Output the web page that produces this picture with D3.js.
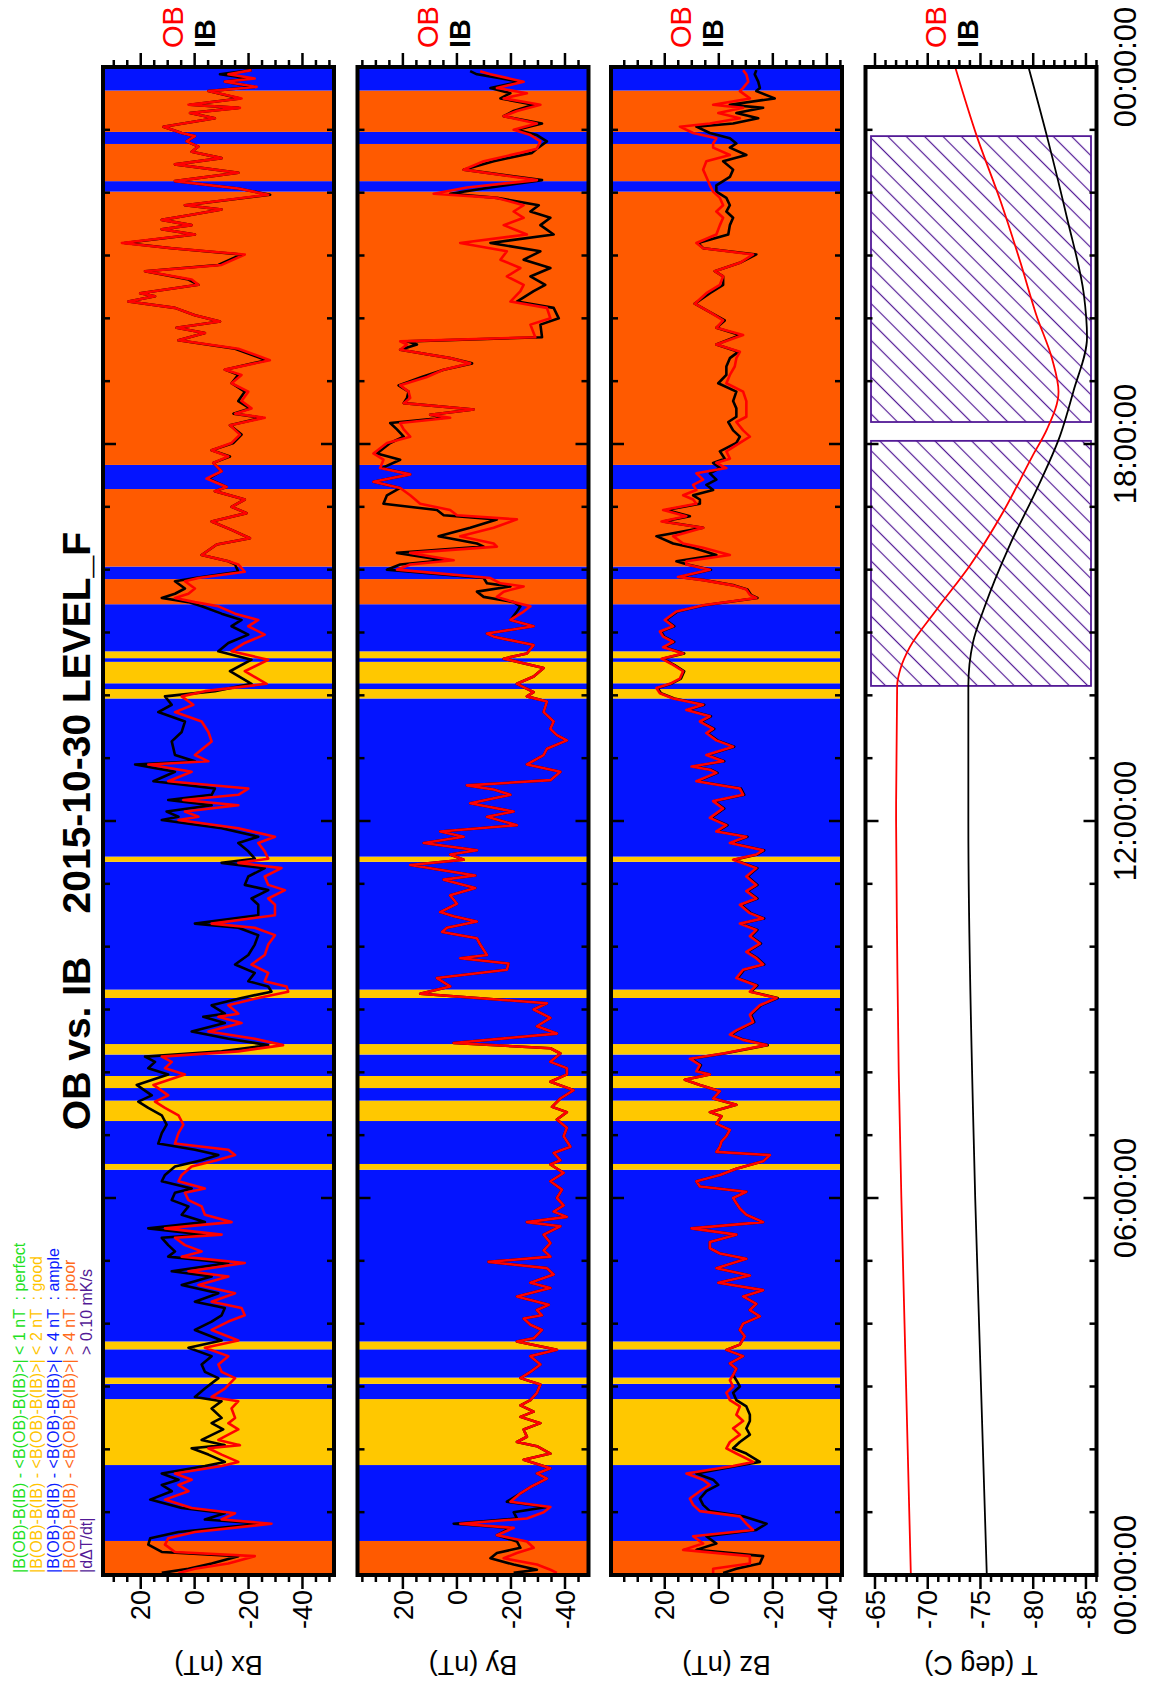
<!DOCTYPE html>
<html><head><meta charset="utf-8">
<script src="https://cdn.jsdelivr.net/npm/d3@7/dist/d3.min.js"></script>
<style>
html,body{margin:0;padding:0;background:#fff;}
svg{display:block;font-family:"Liberation Sans",Arial,Helvetica,sans-serif;}
</style></head><body>
<svg id="chart" width="1149" height="1703"></svg>
<script>
// ---------------- DATA ----------------
// time in minutes since 2015-10-30 00:00:00
const timeTickMinutes = [0, 360, 720, 1080, 1440];
const timeTickLabels = ["00:00:00", "06:00:00", "12:00:00", "18:00:00", "00:00:00"];

// quality bands (start minute, quality)
const bandStart = [0, 32.5, 105, 168, 182.5, 188.5, 215.5, 223, 387, 392.5, 433.5, 453, 465, 476.5, 497, 507, 551, 559, 681, 686, 837, 846, 851.5, 872, 875.5, 882, 927, 951, 963, 1037, 1060, 1321, 1331, 1366.5, 1378, 1417.5];
const bandQuality = ["poor","ample","good","ample","good","ample","good","ample","good","ample","good","ample","good","ample","good","ample","good","ample","good","ample","good","ample","good","ample","good","ample","poor","ample","poor","ample","poor","ample","poor","ample","poor","ample"];

// Bx (nT)
const bxTime = [1437,1433,1429,1426,1421,1417,1410,1404,1401,1396,1391,1383,1377,1374,1369,1364,1359,1353,1347,1339,1331,1324,1318,1308,1304,1299,1294,1289,1285,1280,1272,1267,1261,1251,1245,1237,1232,1224,1221,1216,1210,1203,1197,1191,1186,1179,1171,1160,1151,1146,1138,1130,1121,1114,1109,1105,1098,1089,1081,1074,1068,1062,1054,1047,1039,1035,1027,1020,1014,1006,998,990,984,974,968,
965,958,952,949,942,937,933,929,925,918,912,906,898,890,882,874,863,851,844,839,831,824,815,805,796,783,777,774,767,758,751,745,740,735,729,724,721,713,705,699,691,684,680,675,667,659,654,646,640,630,622,618,611,602,592,583,575,567,562,557,551,544,536,533,527,519,512,506,500,495,490,484,
478,468,458,452,446,439,430,422,412,406,401,396,390,382,376,369,365,358,352,344,337,331,325,322,315,309,304,298,290,285,277,269,261,255,248,242,234,224,217,209,201,194,188,178,170,166,159,150,145,139,129,124,121,115,108,104,97,91,86,80,72,64,59,53,49,41,35,29,22,18,11,6,2];
const bxOB = [-21.1,-12.5,-22.3,-11.2,-23.0,-5.1,-17.4,2.3,-16.8,1.7,-7.5,11.6,4.8,-0.1,3.0,-1.4,1.1,-10.0,7.3,-16.2,7.3,-16.2,-27.3,3.6,-10.0,1.1,12.2,1.1,12.2,-0.1,27.0,8.5,-18.6,-10.0,18.4,1.1,-1.4,20.2,14.7,24.6,7.3,-0.1,-9.4,6.7,-3.8,6.0,-16.2,-27.9,-11.2,-17.4,-13.7,-19.9,-17.4,-21.1,-15.0,-26.0,-13.1,-16.8,-13.7,-6.3,-12.5,-6.9,-10.0,-4.4,-11.9,-7.5,-18.6,-13.7,-19.3,-6.3,-13.7,-20.5,-8.2,-2.6,-12.5,
-16.2,-18.6,-1.4,3.6,-0.1,2.3,7.3,-0.1,-8.8,-15.0,-23.6,-19.9,-26.0,-18.6,-13.7,-27.3,-18.6,-26.7,-3.8,4.8,0.5,7.3,-2.6,-5.1,-6.3,-0.1,-5.1,17.2,1.1,9.8,-19.9,-16.2,4.2,-16.2,3.6,-1.4,6.0,-16.2,-29.8,-23.6,-26.0,-27.3,-16.2,-32.2,-26.0,-27.3,-33.5,-27.3,-29.8,-29.8,-6.3,-22.3,-29.8,-27.3,-26.0,-21.1,-27.3,-26.0,-34.1,-34.7,-23.6,-12.5,-16.2,-8.8,-17.4,-5.1,-22.3,-32.8,-16.2,12.2,8.5,11.0,
3.6,15.3,9.8,14.7,11.0,6.0,4.2,6.0,7.3,-12.5,-15.0,-8.2,1.1,4.8,6.0,-3.8,3.6,2.3,-2.6,-3.8,-13.7,11.0,-10.0,7.3,3.6,-2.6,4.8,-18.6,2.3,-12.5,-1.4,-15.0,-6.3,-17.4,-18.6,-12.5,-6.3,-16.2,-3.8,-12.5,-8.8,-10.0,-15.0,-11.2,-6.3,-16.2,-13.7,-15.0,-12.5,-16.2,-8.8,-16.8,-5.1,-10.0,-16.2,-10.0,7.3,1.1,6.0,2.3,11.0,1.1,-15.0,-10.0,-28.5,-0.1,9.8,11.0,7.3,-22.3,-12.5,-0.1,6.0];
const bxIB = [-21.1,-9.4,-20.5,-11.2,-22.3,-5.1,-16.8,1.7,-16.2,1.7,-7.5,11.6,4.8,-0.1,3.0,-1.4,1.1,-10.0,7.3,-16.2,7.3,-16.2,-28.0,3.6,-10.0,1.1,12.2,1.1,12.2,-0.1,26.0,8.5,-17.4,-8.8,18.4,2.3,-1.4,20.2,14.7,24.6,7.3,-0.1,-9.4,6.7,-3.8,6.0,-15.0,-26.7,-11.2,-16.2,-13.7,-18.6,-16.2,-20.5,-14.4,-25.0,-13.1,-17.4,-14.4,-6.3,-13.1,-6.9,-10.0,-5.1,-11.9,-7.5,-18.6,-13.7,-19.3,-6.3,-13.7,-20.5,-8.2,-2.6,-12.5,
-15.0,-16.2,-0.1,7.3,3.6,7.3,12.2,2.3,-2.6,-10.0,-17.4,-13.7,-19.9,-12.5,-8.8,-21.1,-13.1,-21.1,-7.5,11.0,8.5,13.5,3.6,4.8,8.5,7.3,-0.1,22.1,7.3,15.3,-7.5,-6.3,9.8,-6.3,10.4,6.0,12.2,-10.0,-23.6,-16.2,-19.9,-22.3,-10.0,-26.0,-19.9,-18.6,-27.3,-21.1,-23.6,-23.6,-0.1,-16.2,-23.6,-22.3,-19.9,-15.0,-22.3,-19.9,-27.3,-28.5,-17.4,-6.3,-11.2,-3.2,-11.2,1.1,-12.5,-27.3,-10.0,18.4,14.7,17.2,
9.8,21.5,15.9,20.9,17.2,12.2,10.4,12.2,13.5,-0.1,-8.8,-2.6,7.3,11.0,12.2,1.1,7.3,8.5,2.3,4.8,-3.8,17.2,-3.8,12.2,9.8,7.3,9.8,-12.5,8.5,-6.3,4.8,-8.8,-0.1,-11.2,-10.0,-6.3,-0.1,-10.0,2.3,-6.3,-2.6,-3.8,-8.8,-3.8,-0.1,-10.0,-6.3,-10.0,-6.3,-10.6,-2.6,-11.2,1.1,-5.1,-11.2,-3.8,12.2,6.0,12.2,8.5,16.5,4.8,-11.2,-3.8,-24.8,6.0,16.5,17.2,12.2,-16.2,-6.3,2.3,12.2];

// By (nT)
const byTime = [1436,1433,1426,1420,1415,1410,1404,1398,1393,1386,1380,1375,1369,1362,1358,1350,1342,1332,1325,1319,1315,1308,1302,1296,1289,1280,1272,1264,1256,1248,1240,1232,1226,1216,1210,1200,1194,1182,1178,1175,1170,1162,1157,1151,1144,1136,1130,1124,1119,1113,1108,1105,1100,1094,1087,1081,1071,1065,1057,1051,1044,1038,1031,1023,1017,1012,1008,1000,992,985,982,976,969,
965,960,952,947,944,939,934,929,925,920,912,906,899,896,888,880,875,866,858,851,843,839,834,824,815,808,802,797,789,783,774,767,759,754,750,745,737,729,724,716,710,705,699,692,688,683,678,668,664,656,649,641,633,629,624,618,614,608,602,592,589,584,578,570,562,555,551,546,540,532,524,517,508,503,498,490,484,
478,471,463,455,447,442,435,427,419,409,403,396,392,384,376,368,360,353,347,342,337,333,325,317,310,304,299,293,287,279,274,266,258,253,248,245,239,234,226,223,215,209,201,194,188,182,174,167,162,156,151,145,139,132,127,123,116,110,102,97,92,84,78,70,65,60,54,49,45,38,32,26,21,16,10,5,2];
const byOB = [-8.6,-12.4,-24.7,-14.8,-25.9,-17.3,-30.9,-22.2,-17.3,-29.6,-21.0,-27.2,-30.9,-29.6,-23.5,-9.9,-2.5,-29.6,-3.7,8.6,-14.8,-24.7,-21.0,-24.7,-17.3,-25.9,-1.2,-18.5,-16.1,-23.5,-18.5,-24.7,-23.5,-19.8,-33.3,-34.6,-27.2,-29.0,21.0,18.5,21.0,2.5,-4.9,4.9,11.1,21.0,17.9,17.3,19.7,-6.2,9.9,2.5,21.0,19.7,17.3,25.9,30.9,27.2,28.4,17.3,30.9,21.0,17.3,13.6,2.5,0.0,-22.2,-13.6,-1.2,-13.6,-14.8,17.3,1.2,
17.3,22.2,-12.4,-16.1,-24.7,-17.3,-14.8,-21.0,-27.2,-24.7,-19.8,-28.4,-11.1,-13.6,-28.4,-25.9,-17.3,-32.1,-28.4,-22.2,-28.4,-25.9,-33.3,-32.1,-35.8,-34.6,-37.0,-40.7,-33.3,-32.1,-25.9,-38.3,-34.6,-3.7,-13.6,-19.8,-4.9,-21.0,-11.1,-22.2,6.2,-2.5,12.3,-7.4,2.5,-2.5,17.3,-6.8,4.9,-6.8,2.5,0.0,6.2,1.2,-7.4,3.7,5.5,-7.4,-8.6,-11.1,-1.2,-19.1,-18.5,7.4,2.5,13.6,-7.4,-33.3,-28.4,-34.6,-29.6,-37.0,1.2,-34.6,-38.3,-34.6,-40.7,
-40.7,-34.6,-43.2,-38.3,-35.2,-40.7,-37.0,-40.7,-39.5,-42.0,-35.8,-38.3,-34.6,-39.5,-34.6,-38.9,-37.0,-39.5,-35.8,-40.7,-25.9,-38.3,-32.1,-34.6,-32.1,-34.6,-11.7,-33.3,-35.8,-27.2,-34.6,-22.2,-34.0,-29.6,-31.5,-24.7,-27.2,-31.5,-28.4,-22.2,-37.0,-27.2,-30.9,-27.2,-23.5,-30.9,-29.6,-27.2,-23.5,-28.4,-23.5,-30.9,-24.7,-25.9,-22.2,-29.6,-34.6,-24.7,-34.6,-29.6,-33.3,-27.2,-23.5,-19.8,-34.6,-32.1,-25.9,-1.2,-21.0,-14.8,-25.9,-28.4,-22.2,-17.3,-29.6,-34.6,-37.0];
const byIB = [-4.9,-7.4,-23.5,-12.4,-19.8,-16.1,-28.4,-21.0,-17.3,-31.5,-22.2,-29.6,-33.3,-29.6,-27.8,-13.6,-2.5,-31.5,-12.4,2.5,-14.8,-30.3,-27.2,-34.6,-30.9,-35.8,-12.4,-30.9,-24.7,-34.6,-27.2,-32.7,-28.4,-22.2,-35.8,-37.7,-30.9,-31.5,18.5,14.8,21.0,2.5,-5.6,4.9,13.0,21.6,17.9,18.5,19.7,-6.2,9.9,4.9,24.7,22.2,19.7,24.7,29.6,21.0,27.8,17.3,30.9,21.0,25.9,27.2,7.4,4.9,-14.8,-4.9,6.8,-7.4,-9.9,22.2,4.9,
21.0,25.9,-9.9,-11.1,-19.8,-7.4,-9.9,-21.0,-23.5,-22.2,-19.8,-28.4,-11.1,-13.6,-28.4,-25.9,-17.3,-32.1,-28.4,-22.2,-28.4,-25.9,-33.3,-32.1,-35.8,-34.6,-37.0,-40.7,-33.3,-32.1,-25.9,-38.3,-34.6,-3.7,-13.6,-19.8,-4.9,-21.0,-11.1,-22.2,6.2,-2.5,12.3,-7.4,2.5,-2.5,17.3,-6.8,4.9,-6.8,2.5,0.0,6.2,1.2,-7.4,3.7,5.5,-7.4,-8.6,-11.1,-1.2,-19.1,-18.5,7.4,2.5,13.6,-7.4,-33.3,-28.4,-34.6,-29.6,-37.0,1.2,-34.6,-38.3,-34.6,-40.7,
-40.7,-34.6,-43.2,-38.3,-35.2,-40.7,-37.0,-40.7,-39.5,-42.0,-35.8,-38.3,-34.6,-39.5,-34.6,-38.9,-37.0,-39.5,-35.8,-40.7,-25.9,-38.3,-32.1,-34.6,-32.1,-34.6,-11.7,-33.3,-35.8,-27.2,-34.6,-22.2,-34.0,-29.6,-31.5,-24.7,-27.2,-31.5,-28.4,-22.2,-37.0,-27.2,-30.9,-27.2,-23.5,-30.9,-29.6,-27.2,-23.5,-28.4,-23.5,-30.9,-24.7,-25.9,-22.2,-29.6,-34.6,-24.7,-34.6,-29.6,-33.3,-27.2,-23.5,-18.5,-33.3,-21.0,-22.2,1.2,-19.8,-14.8,-22.2,-23.5,-14.8,-12.4,-21.0,-29.6,-21.0];

// Bz (nT)
const bzTime = [1437,1433,1426,1420,1417,1410,1404,1401,1396,1391,1386,1383,1377,1372,1367,1363,1356,1350,1342,1335,1327,1321,1315,1308,1302,1296,1289,1280,1272,1267,1261,1253,1245,1240,1232,1224,1214,1206,1198,1191,1184,1175,1168,1162,1154,1146,1138,1130,1121,1114,1106,1101,1093,1087,1081,1073,1066,1062,1057,1052,1046,1041,1036,1031,1027,1023,1017,1011,1006,1000,992,985,981,974,968,
965,960,953,950,945,941,936,933,926,920,912,906,901,896,891,886,880,875,869,863,856,851,847,842,837,831,826,820,815,808,804,797,791,783,777,772,769,766,758,751,745,739,732,723,716,710,705,699,692,688,683,675,667,659,653,646,640,632,627,622,616,610,603,595,589,583,578,570,563,557,551,544,535,528,520,516,511,506,498,493,487,481,
478,473,468,462,455,449,442,438,431,425,419,414,409,404,401,395,388,382,376,371,366,360,355,350,344,337,331,325,318,312,307,302,293,286,279,272,266,259,253,247,240,234,228,220,215,209,202,197,191,186,180,174,167,161,153,147,140,134,127,121,116,108,104,97,91,86,80,73,67,61,56,49,43,37,30,24,18,11,6,2];
const bzOB = [-9.0,-10.2,-10.9,-9.0,-7.8,-11.5,2.1,-9.0,0.2,-7.8,3.3,14.4,9.5,0.9,2.1,2.1,-4.1,4.6,5.8,4.6,3.3,2.1,-0.4,-1.6,0.9,-1.6,-0.4,0.9,8.3,5.8,-12.7,-7.8,1.5,-1.6,-0.4,4.6,8.9,3.3,-1.6,0.9,-9.0,0.9,-7.8,-6.5,-5.9,-4.1,-2.8,-9.0,-10.2,-10.2,-10.2,-6.5,-9.0,-11.5,-7.8,-2.8,-4.1,0.9,-2.8,8.3,5.8,9.5,8.3,13.2,9.5,8.3,20.6,12.0,21.2,5.8,16.9,13.2,5.8,-4.1,12.0,
12.0,3.3,15.1,5.8,-5.3,-10.2,-11.5,-13.9,5.8,15.7,20.0,16.9,21.8,20.6,16.9,20.6,13.2,21.2,16.9,13.2,14.4,18.1,23.1,21.8,16.9,5.8,12.0,3.3,7.0,2.1,4.6,0.9,-5.3,4.6,-1.6,10.1,3.3,0.9,8.3,-7.8,-9.0,2.1,-1.6,3.3,-2.8,0.9,-10.2,-4.1,-16.4,-13.9,-5.3,-13.9,-10.2,-13.9,-10.2,-13.9,-7.8,-11.5,-16.4,-7.8,-13.9,-11.5,-15.2,-10.2,-13.9,-16.4,-9.0,-6.5,-13.9,-11.5,-21.4,-15.2,-11.5,-12.7,-6.5,-4.1,-9.0,-17.7,-1.6,10.7,7.0,8.3,
3.3,12.6,7.0,-0.4,2.1,-6.5,3.3,-1.0,0.9,-4.1,-2.8,-1.0,-0.4,0.9,-18.9,-16.4,-6.5,-0.4,8.3,7.0,-10.2,-5.3,-6.5,-7.8,-10.2,-16.4,10.1,-6.5,3.3,3.3,-0.4,-10.2,0.9,-11.5,0.2,-16.4,-9.0,-13.9,-11.5,-15.2,-9.0,-7.8,-9.6,-7.8,-2.8,-9.0,-4.1,-6.5,-5.3,-4.1,-5.3,-2.8,-4.1,-7.8,-6.5,-9.0,-5.3,-7.8,-4.1,-2.8,-6.5,-12.7,-5.3,12.0,5.8,3.3,7.0,10.7,9.5,7.0,-7.8,-10.2,-12.7,9.5,5.8,13.2,-11.5,-11.5,2.1,2.1];
const bzIB = [-13.9,-13.3,-14.6,-15.2,-13.9,-20.7,-4.1,-16.4,-6.5,-14.6,-5.3,8.3,3.3,-4.1,-6.5,-4.1,-10.2,-1.6,-5.3,-4.1,0.9,0.9,-2.8,-4.1,-2.8,-5.3,-4.1,-3.5,7.7,5.8,-13.9,-7.8,1.5,-1.6,-1.6,3.3,8.9,3.3,-2.2,0.9,-7.8,0.9,-7.2,-4.1,-2.8,-2.8,0.2,-6.5,-5.3,-6.5,-6.5,-3.5,-5.3,-7.8,-6.5,-0.4,-2.2,2.1,-0.4,3.3,0.9,4.6,2.1,9.5,7.0,7.0,19.4,10.7,20.6,5.8,23.1,16.9,9.5,0.9,15.7,
11.6,2.9,14.7,5.4,-5.7,-10.6,-11.9,-14.3,5.4,15.3,19.6,16.5,21.4,20.2,16.5,20.2,12.8,20.8,16.5,12.8,14.0,17.7,22.7,21.4,16.5,5.4,11.6,2.9,6.6,1.7,4.2,0.5,-5.7,4.2,-2.0,9.7,2.9,0.5,7.9,-8.2,-9.4,1.7,-2.0,2.9,-3.2,0.5,-10.6,-4.5,-16.8,-14.3,-5.7,-14.3,-10.6,-14.3,-10.6,-14.3,-8.2,-11.9,-16.8,-8.2,-14.3,-11.9,-15.6,-10.6,-14.3,-16.8,-9.4,-6.9,-14.3,-11.9,-21.8,-15.6,-11.9,-13.1,-6.9,-4.5,-9.4,-18.1,-2.0,10.3,6.6,7.9,
3.3,12.6,7.0,-0.4,2.1,-6.5,3.3,-1.0,0.9,-4.1,-2.8,-1.0,-0.4,0.9,-18.9,-16.4,-6.5,-0.4,8.3,7.0,-10.2,-5.3,-6.5,-7.8,-10.2,-16.4,10.1,-6.5,3.3,3.3,-0.4,-10.2,0.9,-11.5,0.2,-16.4,-9.0,-13.9,-11.5,-15.2,-9.0,-7.8,-9.6,-7.8,-2.8,-9.0,-4.1,-6.5,-5.3,-6.5,-7.8,-5.3,-6.5,-10.2,-11.5,-11.5,-10.2,-11.5,-7.8,-5.3,-10.2,-15.2,-6.5,8.3,2.1,0.2,4.6,7.0,5.8,3.3,-9.0,-17.7,-13.9,4.6,0.9,8.3,-16.4,-15.2,-6.5,-1.6];

// Temperature (deg C)
const tOBTime = [0,120,240,360,480,600,720,849,865,886,922,964,1016,1068,1094,1130,1161,1203,1253,1312,1374,1440];
const tOB = [-68.4,-68.1,-67.8,-67.5,-67.25,-67.1,-67.0,-67.1,-67.4,-68.3,-70.85,-74.0,-77.2,-79.9,-81.3,-82.4,-81.8,-80.3,-78.8,-76.9,-74.65,-72.6];
const tIBTime = [0,360,720,849,891,922,984,1036,1088,1130,1182,1223,1296,1374,1440];
const tIB = [-75.6,-74.5,-73.85,-73.85,-74.3,-75.3,-77.8,-80.3,-82.55,-83.8,-85.1,-84.8,-83.2,-81.3,-79.55];

// |dDeltaT/dt| > 0.10 mK/s intervals (minutes)
const hatchStart = [849, 1101];
const hatchEnd = [1083, 1374];

// panel labels and ticks
const panelLabels = ["Bx (nT)", "By (nT)", "Bz (nT)", "T (deg C)"];
const bTickValues = [20, 0, -20, -40];
const tTickValues = [-65, -70, -75, -80, -85];

const legendLines = [
  "|B(OB)-B(IB) - <B(OB)-B(IB)>| < 1 nT  : perfect",
  "|B(OB)-B(IB) - <B(OB)-B(IB)>| < 2 nT  : good",
  "|B(OB)-B(IB) - <B(OB)-B(IB)>| < 4 nT  : ample",
  "|B(OB)-B(IB) - <B(OB)-B(IB)>| > 4 nT  : poor"
];
const legendColors = ["#22e022", "#ffc400", "#0a1cff", "#ff6a1a"];
const rateLabel = ["|d\u0394T/dt|", "> 0.10 mK/s"];
const titleText = "OB vs. IB    2015-10-30 LEVEL_F";

// ---------------- DRAW ----------------
const PW = 1703; // landscape width (becomes page height)
const svg = d3.select("#chart");
svg.append("rect").attr("width", 1149).attr("height", 1703).attr("fill", "#fff");
const root = svg.append("g").attr("transform", `translate(0,${PW}) rotate(-90)`);

const X0 = 128, X1 = 1636;
const xs = d3.scaleLinear().domain([0, 1440]).range([X0, X1]);
const PH = 231;
const panelTops = [103, 357.5, 611, 865.5];
const bandColor = {poor: "#ff5a00", ample: "#0414ff", good: "#ffc800"};
const purple = "#531a96";

const defs = root.append("defs");
const pat = defs.append("pattern").attr("id", "hatch").attr("patternUnits", "userSpaceOnUse")
  .attr("width", 13).attr("height", 13).attr("patternTransform", "rotate(-45)");
pat.append("line").attr("x1", 0).attr("y1", 6.5).attr("x2", 13).attr("y2", 6.5)
  .attr("stroke", purple).attr("stroke-width", 1.2);

const panels = [
  {domain: [-51.7, 34.0], time: bxTime, ob: bxOB, ib: bxIB, ticks: bTickValues, minor: 5, bands: true},
  {domain: [-48.7, 36.8], time: byTime, ob: byOB, ib: byIB, ticks: bTickValues, minor: 5, bands: true},
  {domain: [-45.6, 39.9], time: bzTime, ob: bzOB, ib: bzIB, ticks: bTickValues, minor: 5, bands: true},
  {domain: [-86.0, -64.1], ticks: tTickValues, minor: 1, bands: false}
];

panels.forEach((p, i) => {
  const top = panelTops[i], bot = top + PH;
  const ys = d3.scaleLinear().domain(p.domain).range([bot, top]);
  const g = root.append("g");
  const cid = "clip" + i;
  defs.append("clipPath").attr("id", cid).append("rect")
    .attr("x", X0).attr("y", top).attr("width", X1 - X0).attr("height", PH);
  const inner = g.append("g").attr("clip-path", `url(#${cid})`);

  if (p.bands) {
    bandStart.forEach((s, k) => {
      const e = k < bandStart.length - 1 ? bandStart[k + 1] : 1440;
      inner.append("rect").attr("x", xs(s)).attr("y", top).attr("width", xs(e) - xs(s)).attr("height", PH)
        .attr("fill", bandColor[bandQuality[k]]);
    });
    const line = d3.line().x((d, k) => xs(p.time[k])).y(d => ys(d));
    inner.append("path").attr("d", line(p.ib)).attr("fill", "none").attr("stroke", "#000").attr("stroke-width", 2.6).attr("stroke-linejoin", "round");
    inner.append("path").attr("d", line(p.ob)).attr("fill", "none").attr("stroke", "#ff0000").attr("stroke-width", 2.6).attr("stroke-linejoin", "round");
  } else {
    inner.append("rect").attr("x", X0).attr("y", top).attr("width", X1 - X0).attr("height", PH).attr("fill", "#fff");
    hatchStart.forEach((s, k) => {
      inner.append("rect").attr("x", xs(s)).attr("y", top + 5.5).attr("width", xs(hatchEnd[k]) - xs(s)).attr("height", PH - 11)
        .attr("fill", "url(#hatch)").attr("stroke", purple).attr("stroke-width", 1.8);
    });
    const lOB = d3.line().x((d, k) => xs(tOBTime[k])).y(d => ys(d)).curve(d3.curveMonotoneX);
    const lIB = d3.line().x((d, k) => xs(tIBTime[k])).y(d => ys(d)).curve(d3.curveMonotoneX);
    inner.append("path").attr("d", lIB(tIB)).attr("fill", "none").attr("stroke", "#000").attr("stroke-width", 1.8);
    inner.append("path").attr("d", lOB(tOB)).attr("fill", "none").attr("stroke", "#ff0000").attr("stroke-width", 1.8);
  }

  // time ticks (inward, hourly)
  d3.range(1, 24).forEach(h => {
    const len = h % 6 === 0 ? 13 : 7;
    const x = xs(h * 60);
    g.append("line").attr("x1", x).attr("x2", x).attr("y1", top).attr("y2", top + len).attr("stroke", "#000").attr("stroke-width", 2.5);
    g.append("line").attr("x1", x).attr("x2", x).attr("y1", bot).attr("y2", bot - len).attr("stroke", "#000").attr("stroke-width", 2.5);
  });

  // value ticks (outward on both ends)
  const lo = Math.ceil(p.domain[0] / p.minor) * p.minor;
  const minorVals = d3.range(lo, p.domain[1], p.minor);
  minorVals.forEach(v => {
    const isMajor = p.ticks.some(t => Math.abs(t - v) < 1e-6);
    const len = isMajor ? 14 : 7;
    const y = ys(v);
    g.append("line").attr("x1", X0).attr("x2", X0 - len).attr("y1", y).attr("y2", y).attr("stroke", "#000").attr("stroke-width", 2.5);
    g.append("line").attr("x1", X1).attr("x2", X1 + len).attr("y1", y).attr("y2", y).attr("stroke", "#000").attr("stroke-width", 2.5);
  });
  p.ticks.forEach(v => {
    g.append("text").attr("x", X0 - 15).attr("y", ys(v)).attr("dy", "0.36em").attr("text-anchor", "end")
      .attr("font-size", 27).attr("fill", "#000").text(v);
  });

  // frame
  g.append("rect").attr("x", X0).attr("y", top).attr("width", X1 - X0).attr("height", PH)
    .attr("fill", "none").attr("stroke", "#000").attr("stroke-width", 4);

  // axis title
  g.append("text").attr("transform", `translate(47,${top + PH / 2}) rotate(-90)`).attr("text-anchor", "middle")
    .attr("font-size", 27).attr("fill", "#000").text(panelLabels[i]);

  // OB / IB labels
  g.append("text").attr("x", 1655).attr("y", top + 80).attr("font-size", 29).attr("fill", "#ff0000").text("OB");
  g.append("text").attr("x", 1655).attr("y", top + 112).attr("font-size", 29).attr("font-weight", "bold").attr("fill", "#000").text("IB");
});

// time axis labels
timeTickMinutes.forEach((m, k) => {
  root.append("text").attr("x", xs(m)).attr("y", 1136).attr("text-anchor", "middle").attr("font-size", 31)
    .attr("fill", "#000").text(timeTickLabels[k]);
});

// title
root.append("text").attr("x", (X0 + X1) / 2 - 10).attr("y", 90).attr("text-anchor", "middle")
  .attr("font-size", 39).attr("font-weight", "bold").attr("fill", "#000")
  .style("white-space", "pre").text(titleText);

// legend
const legY = [25, 42, 58.5, 75];
legendLines.forEach((s, k) => {
  root.append("text").attr("x", 130).attr("y", legY[k]).attr("font-size", 16).attr("fill", legendColors[k])
    .style("white-space", "pre").text(s);
});
const probe = root.append("text").attr("font-size", 16).style("white-space", "pre").text("|B(OB)-B(IB) - <B(OB)-B(IB)>| ");
const off = probe.node().getComputedTextLength();
probe.remove();
root.append("text").attr("x", 130).attr("y", 92).attr("font-size", 16).attr("fill", purple).text(rateLabel[0]);
root.append("text").attr("x", 130 + off).attr("y", 92).attr("font-size", 16).attr("fill", purple).style("white-space", "pre").text(rateLabel[1]);
</script>
</body></html>
